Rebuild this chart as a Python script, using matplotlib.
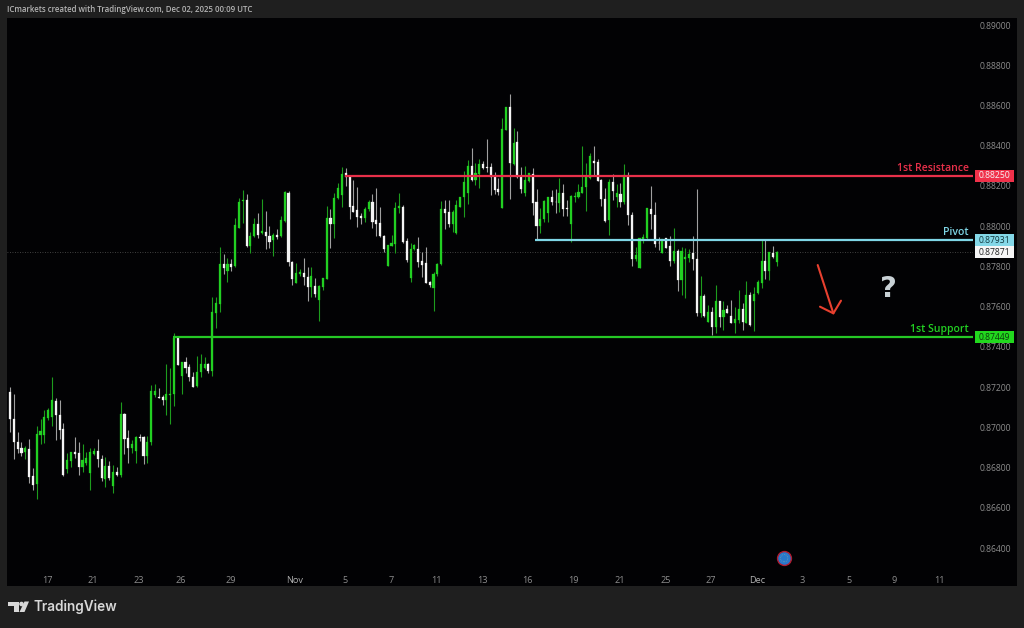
#!/usr/bin/env python3
"""EUR/GBP style 4h candle chart with support, pivot and resistance levels."""

from __future__ import annotations

import matplotlib
matplotlib.use("Agg")
import matplotlib.pyplot as plt
import numpy as np
from matplotlib.patches import Circle, Polygon, Rectangle
from matplotlib.transforms import IdentityTransform

# Prices are in 1/100000 units
OPENS = [
    87178, 87040, 86929, 86896, 86880, 86893, 86759, 86719, 86964, 86962, 87045, 87050, 87133, 87062, 86991, 86793,
    86835, 86876, 86871, 86802, 86822, 86775, 86868, 86883, 86841, 86744, 86810, 86711, 86780, 86764, 87065, 86946,
    86896, 86883, 86954, 86954, 86858, 86926, 87161, 87151, 87150, 87136, 87161, 87166, 87443, 87257, 87324, 87299,
    87252, 87206, 87277, 87297, 87315, 87281, 87571, 87614, 87812, 87778, 87812, 87802, 87993, 88127, 88130, 87903,
    87951, 88009, 87965, 87970, 87953, 87932, 87956, 87951, 88028, 88167, 87824, 87716, 87761, 87769, 87749, 87700,
    87703, 87633, 87696, 87739, 88043, 88011, 88139, 88155, 88263, 88246, 88101, 88081, 88053, 88043, 88084, 88119,
    88031, 88014, 87951, 87804, 87903, 87912, 88089, 88097, 87927, 87741, 87887, 87887, 87827, 87816, 87721, 87691,
    87763, 87812, 88084, 88069, 88011, 87965, 88097, 88147, 88167, 88299, 88230, 88258, 88309, 88293, 88293, 88250,
    88183, 88092, 88478, 88594, 88308, 88417, 88243, 88163, 88226, 88260, 88122, 88001, 88036, 88067, 88144, 88122,
    88114, 88163, 88089, 88009, 88147, 88147, 88167, 88197, 88238, 88324, 88318, 88231, 88135, 88031, 88221, 88144,
    88160, 88122, 88251, 88056, 87835, 87794, 87931, 87940, 88085, 88056, 87918, 87868, 87940, 87901, 87829, 87878,
    87732, 87837, 87840, 87865, 87837, 87567, 87653, 87525, 87575, 87500, 87628, 87550, 87588, 87553, 87520, 87534,
    87588, 87520, 87658, 87630, 87666, 87719, 87829, 87777, 87867, 87820,
]
CLOSES = [
    87040, 86929, 86893, 86875, 86896, 86755, 86714, 86967, 86984, 87050, 87087, 87136, 87062, 86987, 86762, 86838,
    86876, 86866, 86802, 86838, 86846, 86876, 86883, 86841, 86747, 86808, 86750, 86780, 86764, 87065, 86941, 86896,
    86916, 86954, 86946, 86858, 86929, 87183, 87183, 87146, 87136, 87165, 87165, 87443, 87310, 87327, 87297, 87252,
    87203, 87277, 87315, 87315, 87281, 87572, 87617, 87812, 87794, 87812, 87796, 88006, 88122, 88130, 87902, 87953,
    88009, 87956, 87976, 87951, 87923, 87956, 87948, 88031, 88172, 87824, 87738, 87766, 87774, 87748, 87700, 87753,
    87662, 87705, 87741, 88043, 88011, 88142, 88188, 88260, 88246, 88097, 88072, 88048, 88039, 88084, 88122, 88023,
    88011, 87951, 87885, 87907, 87915, 88089, 88101, 87923, 87832, 87887, 87907, 87824, 87807, 87720, 87708, 87763,
    87812, 88084, 88064, 88011, 88072, 88106, 88144, 88218, 88299, 88230, 88263, 88309, 88288, 88288, 88246, 88180,
    88172, 88483, 88594, 88313, 88415, 88243, 88185, 88230, 88263, 88117, 88001, 88036, 88125, 88147, 88122, 88119,
    88163, 88086, 88086, 88150, 88150, 88168, 88197, 88243, 88351, 88314, 88225, 88135, 88026, 88221, 88175, 88163,
    88122, 88255, 88056, 87837, 87857, 87943, 87945, 88089, 88061, 87911, 87915, 87935, 87893, 87829, 87878, 87732,
    87878, 87848, 87860, 87837, 87567, 87653, 87554, 87575, 87500, 87628, 87550, 87583, 87570, 87520, 87537, 87588,
    87525, 87658, 87509, 87663, 87721, 87829, 87777, 87870, 87848, 87871,
]
HIGHS = [
    87199, 87165, 86979, 86926, 86908, 86944, 86797, 87007, 87044, 87087, 87095, 87249, 87145, 87136, 87020, 86871,
    86880, 86951, 86926, 86916, 86880, 86896, 86896, 86941, 86863, 86855, 86833, 86813, 86802, 87125, 87070, 86987,
    86938, 86959, 86966, 86957, 86957, 87211, 87216, 87194, 87161, 87315, 87297, 87468, 87446, 87327, 87348, 87315,
    87277, 87355, 87365, 87348, 87322, 87650, 87647, 87899, 87862, 87841, 87836, 88039, 88142, 88180, 88160, 87973,
    88043, 88064, 88134, 88077, 88001, 87965, 87986, 88053, 88175, 88177, 87827, 87816, 87786, 87840, 87799, 87796,
    87741, 87708, 87744, 88101, 88084, 88164, 88213, 88296, 88288, 88250, 88230, 88197, 88064, 88097, 88130, 88160,
    88188, 88094, 87956, 87907, 87956, 88122, 88164, 88106, 87940, 87915, 87912, 87945, 87874, 87895, 87729, 87774,
    87819, 88127, 88130, 88130, 88081, 88130, 88144, 88274, 88329, 88387, 88313, 88332, 88324, 88434, 88313, 88268,
    88238, 88536, 88594, 88657, 88487, 88475, 88293, 88299, 88263, 88288, 88185, 88089, 88130, 88147, 88180, 88183,
    88238, 88210, 88130, 88155, 88172, 88208, 88400, 88313, 88362, 88400, 88334, 88233, 88188, 88235, 88260, 88210,
    88216, 88309, 88268, 88072, 87898, 87943, 87961, 88089, 88200, 88122, 87945, 87935, 87943, 87951, 87989, 87885,
    87898, 87890, 87885, 87951, 88185, 87752, 87661, 87608, 87600, 87708, 87630, 87630, 87608, 87633, 87600, 87683,
    87620, 87728, 87674, 87699, 87732, 87935, 87936, 87873, 87901, 87878,
]
LOWS = [
    86979, 86841, 86871, 86858, 86845, 86722, 86689, 86643, 86918, 86921, 87037, 87007, 86938, 86941, 86760, 86775,
    86802, 86846, 86762, 86780, 86813, 86689, 86863, 86805, 86735, 86702, 86739, 86672, 86759, 86752, 86868, 86825,
    86875, 86825, 86934, 86818, 86822, 86913, 87150, 87145, 87112, 87062, 87017, 87107, 87310, 87165, 87272, 87231,
    87199, 87203, 87252, 87289, 87272, 87256, 87493, 87575, 87763, 87725, 87779, 87799, 87990, 88018, 87895, 87869,
    87945, 87940, 87961, 87889, 87893, 87852, 87935, 87945, 88023, 87804, 87708, 87716, 87753, 87708, 87630, 87650,
    87647, 87531, 87683, 87739, 87892, 87943, 88135, 88097, 88200, 88036, 88072, 87995, 88011, 88023, 88076, 87993,
    87951, 87945, 87874, 87802, 87902, 87865, 88064, 87915, 87824, 87724, 87882, 87799, 87746, 87716, 87696, 87580,
    87753, 87807, 87985, 87995, 87973, 87961, 88095, 88047, 88109, 88225, 88205, 88192, 88284, 88268, 88155, 88159,
    88155, 88092, 88478, 88135, 88304, 88238, 88167, 88152, 88218, 88056, 87931, 87968, 88023, 88019, 88105, 88064,
    88072, 88052, 88052, 87923, 88122, 88139, 88163, 88077, 88235, 88255, 88225, 88102, 88019, 87956, 88130, 88097,
    88097, 88110, 88006, 87802, 87829, 87794, 87915, 87936, 87986, 87898, 87882, 87865, 87893, 87804, 87815, 87679,
    87658, 87645, 87824, 87782, 87554, 87550, 87550, 87525, 87459, 87471, 87497, 87484, 87567, 87520, 87471, 87517,
    87484, 87517, 87505, 87481, 87663, 87691, 87736, 87732, 87840, 87802,
]

# Levels drawn on the chart: price and the bar they start from
RESISTANCE = 88250
RESISTANCE_START = 87.8
PIVOT = 87931
PIVOT_START = 137.6
SUPPORT = 87449
SUPPORT_START = 42.8
LAST_PRICE = 87871

# Hand-drawn arrow and marks, as (bar, price)
ARROW_SHAFT = [(211.7, 87807), (215.8, 87567)]
ARROW_HEAD = [(212.3, 87600), (215.8, 87567), (217.8, 87630)]
QUESTION_MARK = (230.1, 87688)
EVENT_MARK = (202.9, 86350)

Y_TICKS = [86400, 86600, 86800, 87000, 87200, 87400, 87600, 87800, 88000, 88200, 88400, 88600, 88800, 89000]
X_TICKS = [9.9, 21.8, 33.8, 44.8, 57.8, 74.6, 87.7, 99.8, 111.8, 123.7, 135.7, 147.8, 159.8, 171.8, 183.7, 195.8, 207.7, 219.8, 231.6, 243.6]
X_LABELS = ["17", "21", "23", "26", "29", "Nov", "5", "7", "11", "13", "16", "19", "21", "25", "27", "Dec", "3", "5", "9", "11"]

W, H = 1024, 628
FONT = "Open Sans"
BG = "#1f1f1f"
GREEN = "#22d022"
RED = "#e8304a"
CYAN = "#7fd6e6"
LINE_GREEN = "#25c825"
GREY = "#8c8c8c"


def px_rect(fig, x0, y0, x1, y1, **kw):
    # Rectangle in pixels from the top left corner of the figure
    fig.add_artist(Rectangle((x0, H - y1), x1 - x0, y1 - y0, transform=IdentityTransform(), **kw))


def price_tag(fig, ax, price, face, text_color):
    y = H - ax.transData.transform((0, price / 1e5))[1]
    px_rect(fig, 975, y - 6, 1013.5, y + 6, facecolor=face, edgecolor="none", zorder=5)
    fig.text(994.2 / W, 1 - y / H, f"{price / 1e5:.5f}", color=text_color, fontsize=6.2, family=FONT,
             ha="center", va="center", zorder=6)


def draw_logo(fig):
    # TradingView mark, drawn in figure pixels
    tr = IdentityTransform()
    logo = "#d8d8d8"
    fig.add_artist(Polygon([(8, H - 601.5), (19, H - 601.5), (19, H - 612), (13.5, H - 612), (13.5, H - 606), (8, H - 606)],
                           closed=True, facecolor=logo, edgecolor="none", transform=tr))
    fig.add_artist(Circle((21.5, H - 604), 2.3, facecolor=logo, edgecolor="none", transform=tr))
    fig.add_artist(Polygon([(24.5, H - 601.5), (29, H - 601.5), (24.5, H - 612), (19.5, H - 612)],
                           closed=True, facecolor=logo, edgecolor="none", transform=tr))
    fig.text(34 / W, 1 - 607 / H, "TradingView", color=logo, fontsize=9.8, family="Inter", weight="semibold",
             ha="left", va="center")


def main() -> None:
    opens = np.array(OPENS) / 1e5
    closes = np.array(CLOSES) / 1e5
    highs = np.array(HIGHS) / 1e5
    lows = np.array(LOWS) / 1e5
    bars = np.arange(len(opens))
    up = closes >= opens

    fig = plt.figure(figsize=(W / 100, H / 100), dpi=100, facecolor=BG)
    px_rect(fig, 7.3, 18, 1017, 586, facecolor="#020204", edgecolor="none", zorder=0)

    ax = fig.add_axes([7.3 / W, 1 - 566 / H, (973 - 7.3) / W, (566 - 18) / H])
    ax.set_facecolor("none")
    ax.set_xlim(-0.71, 252.4)
    ax.set_ylim(0.86311, 0.89035)
    for spine in ax.spines.values():
        spine.set_visible(False)

    # Dotted line at last price
    ax.axhline(LAST_PRICE / 1e5, color="#555555", linewidth=0.6, linestyle=(0, (1, 2)), zorder=1)

    # Candles
    ax.vlines(bars[up], lows[up], highs[up], color="#1d9c1d", linewidth=0.8, zorder=2)
    ax.vlines(bars[~up], lows[~up], highs[~up], color="#a0a0a0", linewidth=0.8, zorder=2)
    ax.bar(bars[up], (closes - opens)[up], bottom=opens[up], width=0.55, color=GREEN,
           edgecolor=GREEN, linewidth=0.2, zorder=3)
    ax.bar(bars[~up], (closes - opens)[~up], bottom=opens[~up], width=0.55, color="#f4f4f4",
           edgecolor="#f4f4f4", linewidth=0.2, zorder=3)

    # Levels
    xmax = ax.get_xlim()[1]
    ax.hlines(RESISTANCE / 1e5, RESISTANCE_START, xmax, color=RED, linewidth=1.6, zorder=4)
    ax.hlines(PIVOT / 1e5, PIVOT_START, xmax, color=CYAN, linewidth=1.6, zorder=4)
    ax.hlines(SUPPORT / 1e5, SUPPORT_START, xmax, color=LINE_GREEN, linewidth=1.6, zorder=4)

    label = dict(ha="right", va="center", fontsize=7.6, family=FONT, weight="semibold", zorder=5)
    ax.text(251.3, (RESISTANCE + 37) / 1e5, "1st Resistance", color=RED, **label)
    ax.text(251.3, (PIVOT + 39) / 1e5, "Pivot", color=CYAN, **label)
    ax.text(251.3, (SUPPORT + 40) / 1e5, "1st Support", color="#22d022", **label)

    # Drawn arrow and question mark
    ax.plot(*zip(*[(b, p / 1e5) for b, p in ARROW_SHAFT]), color="#e8402f", linewidth=1.5, solid_capstyle="round", zorder=5)
    ax.plot(*zip(*[(b, p / 1e5) for b, p in ARROW_HEAD]), color="#e8402f", linewidth=1.5, solid_capstyle="round", zorder=5)
    ax.text(QUESTION_MARK[0], QUESTION_MARK[1] / 1e5, "?", color="#c9d2d6", fontsize=21, family="DejaVu Sans",
            weight="bold", ha="center", va="center", zorder=5)

    # Economic event marker
    ax.scatter([EVENT_MARK[0]], [EVENT_MARK[1] / 1e5], s=100, facecolor="#2878cc", edgecolor="#b01c30", linewidth=1.0, zorder=5)
    ax.scatter([EVENT_MARK[0]], [EVENT_MARK[1] / 1e5], s=28, facecolor="none", edgecolor="#8aa6a0", linewidth=0.5, linestyle=":", zorder=6)

    # Axes ticks
    ax.yaxis.tick_right()
    ax.set_yticks([v / 1e5 for v in Y_TICKS])
    ax.set_yticklabels([f"{v / 1e5:.5f}" for v in Y_TICKS], fontsize=6.2, family=FONT, color=GREY)
    ax.tick_params(axis="y", length=0, pad=5)
    ax.set_xticks(X_TICKS)
    ax.set_xticklabels(X_LABELS, fontsize=6.6, family=FONT, color=GREY)
    ax.tick_params(axis="x", length=0, pad=7)
    for t in ax.get_xticklabels():
        if t.get_text() in ("Nov", "Dec"):
            t.set_color("#b0b0b0")

    # Tags on the price scale
    price_tag(fig, ax, RESISTANCE, "#f0314a", "#f6f6f6")
    price_tag(fig, ax, PIVOT, "#84d8e8", "#10363c")
    price_tag(fig, ax, LAST_PRICE, "#f6f6f6", "#222222")
    price_tag(fig, ax, SUPPORT, "#22d81e", "#0c3a0c")

    fig.text(7 / W, 1 - 10 / H, "ICmarkets created with TradingView.com, Dec 02, 2025 00:09 UTC",
             color="#b4b4b4", fontsize=5.7, family=FONT, weight="semibold", ha="left", va="center")
    draw_logo(fig)

    fig.savefig("out.png", dpi=100, facecolor=BG)
    plt.close(fig)


if __name__ == "__main__":
    main()
